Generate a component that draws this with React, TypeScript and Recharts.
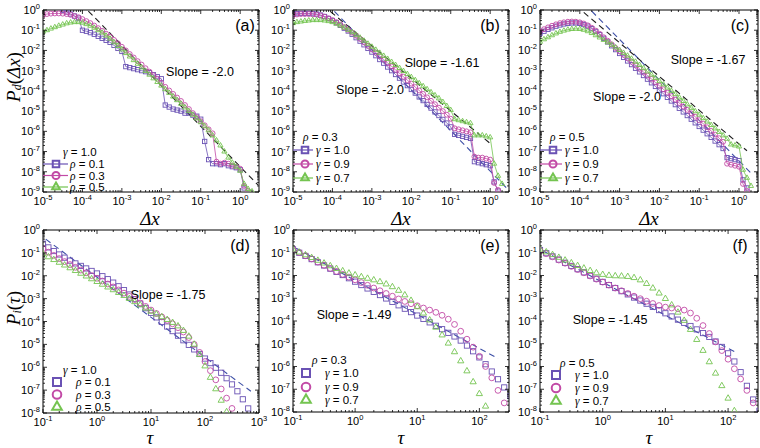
import { ScatterChart, Scatter, XAxis, YAxis, ReferenceLine, ReferenceArea } from 'recharts'

const PURPLE = '#6a52b4'
const MAGENTA = '#c24aa6'
const GREEN = '#74c450'
const FIT_BLUE = '#3d4fa6'
const FIT_BLACK = '#1c1c1c'
const SANS = '"Liberation Sans", Arial, sans-serif'
const SERIF = '"Liberation Serif", "Times New Roman", serif'

// axis decades (exponents of the labelled ticks)
const TOP_X_EXP = [-5, -4, -3, -2, -1, 0]
const TOP_Y_EXP = [-9, -8, -7, -6, -5, -4, -3, -2, -1, 0]
const D_X_EXP = [-1, 0, 1, 2, 3]
const EF_X_EXP = [-1, 0, 1, 2]
const BOT_Y_EXP = [-8, -7, -6, -5, -4, -3, -2, -1, 0]

// all values below are log10 of what the picture shows
const TOP_LOG_X = [
  -5.0, -4.9, -4.8, -4.7, -4.6, -4.5, -4.4, -4.3, -4.2, -4.1,
  -4.0, -3.9, -3.8, -3.7, -3.6, -3.5, -3.4, -3.3, -3.2, -3.1,
  -3.0, -2.9, -2.8, -2.7, -2.6, -2.5, -2.4, -2.3, -2.2, -2.1,
  -2.0, -1.9, -1.8, -1.7, -1.6, -1.5, -1.4, -1.3, -1.2, -1.1,
  -1.0, -0.9, -0.8, -0.7, -0.6, -0.5, -0.4, -0.3, -0.2, -0.1,
  0.0, 0.1, 0.2, 0.3,
]

// (a) gamma = 1.0, rho = 0.1 / 0.3 / 0.5
const A_RHO01 = [
  null, null, null, null, null, -0.02, -0.1, -0.2, -0.3, -0.4,
  -1.0, -1.05, -1.12, -1.2, -1.3, -1.4, -1.5, -1.6, -1.75, -1.9,
  -2.05, -2.8, -2.85, -2.9, -2.95, -3.0, -3.05, -3.1, -3.2, -3.3,
  -3.4, -4.7, -4.8, -4.9, -4.95, -5.0, -5.1, -5.1, -5.2, -5.25,
  -5.4, -6.5, -7.4, -7.6, -7.6, -7.65, -7.6, -7.7, -7.75, -7.8,
  -7.9, -8.8, null, null,
]
const A_RHO03 = [
  -0.25, -0.2, -0.18, -0.17, -0.17, -0.18, -0.2, -0.24, -0.3, -0.36,
  -0.45, -0.55, -0.65, -0.77, -0.9, -1.03, -1.17, -1.32, -1.48, -1.65,
  -1.82, -2.0, -2.18, -2.35, -2.53, -2.7, -2.88, -3.05, -3.23, -3.4,
  -3.6, -3.8, -3.98, -4.15, -4.33, -4.5, -4.7, -4.9, -5.1, -5.3,
  -5.5, -5.7, -5.9, -6.1, -7.5, -7.6, -7.55, -7.6, -7.7, -7.75,
  -7.85, -8.7, -8.95, null,
]
const A_RHO05 = [
  -1.07, -1.0, -0.92, -0.85, -0.78, -0.72, -0.66, -0.62, -0.6, -0.6,
  -0.63, -0.7, -0.78, -0.88, -1.0, -1.12, -1.27, -1.42, -1.6, -1.78,
  -1.95, -2.13, -2.3, -2.48, -2.66, -2.84, -3.02, -3.2, -3.38, -3.56,
  -3.74, -3.92, -4.1, -4.28, -4.46, -4.64, -4.82, -5.0, -5.18, -5.36,
  -5.55, -5.75, -5.95, -6.2, -6.45, -6.7, -7.0, -7.3, -7.55, -7.75,
  -7.95, -8.6, -8.85, -8.97,
]

// (b) rho = 0.3, gamma = 1.0 / 0.9 / 0.7
const B_GAM10 = [
  -0.2, -0.18, -0.17, -0.17, -0.17, -0.18, -0.2, -0.25, -0.32, -0.42,
  -0.52, -0.63, -0.76, -0.9, -1.04, -1.2, -1.37, -1.54, -1.72, -1.9,
  -2.08, -2.26, -2.45, -2.63, -2.82, -3.0, -3.19, -3.37, -3.56, -3.74,
  -3.93, -4.11, -4.3, -4.48, -4.67, -4.85, -5.04, -5.22, -5.41, -5.59,
  -5.78, -6.15, -6.2, -6.25, -6.3, -6.35, -7.5, -7.55, -7.6, -7.65,
  -7.7, -8.5, -8.95, null,
]
const B_GAM09 = [
  -0.25, -0.22, -0.2, -0.2, -0.2, -0.21, -0.23, -0.27, -0.33, -0.41,
  -0.5, -0.6, -0.72, -0.85, -0.98, -1.12, -1.27, -1.43, -1.6, -1.77,
  -1.94, -2.11, -2.28, -2.45, -2.62, -2.79, -2.96, -3.13, -3.3, -3.47,
  -3.64, -3.81, -3.98, -4.15, -4.32, -4.49, -4.66, -4.83, -5.0, -5.18,
  -5.38, -5.85, -5.9, -5.95, -6.0, -6.05, -7.25, -7.3, -7.3, -7.35,
  -7.4, -8.55, -8.9, null,
]
const B_GAM07 = [
  -0.65, -0.6, -0.57, -0.54, -0.52, -0.5, -0.5, -0.5, -0.52, -0.55,
  -0.6, -0.68, -0.77, -0.87, -0.98, -1.1, -1.23, -1.37, -1.52, -1.67,
  -1.82, -1.97, -2.12, -2.27, -2.42, -2.57, -2.72, -2.87, -3.02, -3.17,
  -3.32, -3.47, -3.62, -3.77, -3.92, -4.07, -4.22, -4.37, -4.55, -4.75,
  -4.95, -5.4, -5.45, -5.5, -5.55, -5.6, -6.2, -6.2, -6.2, -6.25,
  -6.3, -7.6, -8.2, -8.6,
]

// (c) rho = 0.5, gamma = 1.0 / 0.9 / 0.7
const C_GAM10 = [
  -1.15, -1.05, -0.96, -0.88, -0.8, -0.74, -0.69, -0.66, -0.64, -0.64,
  -0.66, -0.72, -0.8, -0.92, -1.06, -1.22, -1.4, -1.58, -1.77, -1.96,
  -2.15, -2.34, -2.52, -2.7, -2.88, -3.06, -3.24, -3.42, -3.6, -3.78,
  -3.96, -4.14, -4.32, -4.5, -4.68, -4.86, -5.04, -5.22, -5.4, -5.58,
  -5.76, -5.94, -6.12, -6.3, -6.48, -6.66, -6.85, -7.3, -7.35, -7.4,
  -7.45, -8.4, -8.8, null,
]
const C_GAM09 = [
  -1.05, -0.95, -0.86, -0.78, -0.71, -0.65, -0.61, -0.58, -0.57, -0.58,
  -0.61, -0.67, -0.76, -0.88, -1.02, -1.18, -1.35, -1.52, -1.7, -1.88,
  -2.05, -2.22, -2.39, -2.56, -2.73, -2.9, -3.07, -3.24, -3.41, -3.58,
  -3.75, -3.92, -4.09, -4.26, -4.43, -4.6, -4.77, -4.94, -5.11, -5.28,
  -5.45, -5.62, -5.8, -5.98, -6.16, -6.34, -6.52, -7.6, -7.65, -7.7,
  -7.75, -8.6, -8.95, null,
]
const C_GAM07 = [
  -1.57, -1.45, -1.35, -1.25, -1.16, -1.08, -1.02, -0.97, -0.94, -0.93,
  -0.94, -0.98, -1.05, -1.14, -1.25, -1.36, -1.48, -1.6, -1.72, -1.85,
  -1.98, -2.12, -2.26, -2.41, -2.56, -2.72, -2.88, -3.04, -3.2, -3.36,
  -3.52, -3.68, -3.84, -4.0, -4.16, -4.33, -4.5, -4.67, -4.84, -5.01,
  -5.18, -5.35, -5.52, -5.69, -5.86, -6.03, -6.2, -6.37, -6.65, -6.7,
  -6.75, -7.9, -8.3, -8.7,
]

const D_LOG_X = [
  -1.0, -0.9, -0.8, -0.7, -0.6, -0.5, -0.4, -0.3, -0.2, -0.1,
  0.0, 0.1, 0.2, 0.3, 0.4, 0.5, 0.6, 0.7, 0.8, 0.9,
  1.0, 1.1, 1.2, 1.3, 1.4, 1.5, 1.6, 1.7, 1.8, 1.9,
  2.0, 2.1, 2.2, 2.3, 2.4, 2.5, 2.6, 2.7, 2.8,
]
// (d) gamma = 1.0, rho = 0.1 / 0.3 / 0.5
const D_RHO01 = [
  -0.6, -0.76, -0.92, -1.07, -1.21, -1.34, -1.46, -1.57, -1.68, -1.79,
  -1.9, -2.02, -2.15, -2.3, -2.46, -2.63, -2.82, -3.02, -3.22, -3.42,
  -3.62, -3.82, -4.02, -4.22, -4.42, -4.62, -4.82, -5.02, -5.22, -5.42,
  -5.62, -5.82, -6.02, -6.24, -6.48, -6.75, -7.05, -7.4, -7.8,
]
const D_RHO03 = [
  -0.82, -0.97, -1.11, -1.25, -1.38, -1.51, -1.63, -1.75, -1.87, -1.99,
  -2.11, -2.23, -2.36, -2.49, -2.62, -2.76, -2.9, -3.04, -3.19, -3.34,
  -3.5, -3.65, -3.8, -3.95, -4.1, -4.27, -4.46, -4.7, -5.0, -5.35,
  -5.75, -6.15, -6.55, -6.95, -7.35, -7.8, null, null, null,
]
const D_RHO05 = [
  -1.05, -1.18, -1.3, -1.42, -1.54, -1.66, -1.78, -1.9, -2.02, -2.14,
  -2.26, -2.38, -2.5, -2.62, -2.74, -2.87, -3.0, -3.14, -3.28, -3.42,
  -3.56, -3.68, -3.8, -3.92, -4.05, -4.2, -4.4, -4.65, -5.0, -5.45,
  -5.95, -6.45, -6.95, -7.45, -7.95, null, null, null, null,
]

const EF_LOG_X = [
  -1.0, -0.9, -0.8, -0.7, -0.6, -0.5, -0.4, -0.3, -0.2, -0.1,
  0.0, 0.1, 0.2, 0.3, 0.4, 0.5, 0.6, 0.7, 0.8, 0.9,
  1.0, 1.1, 1.2, 1.3, 1.4, 1.5, 1.6, 1.7, 1.8, 1.9,
  2.0, 2.1, 2.2, 2.3, 2.4, 2.5,
]
// (e) rho = 0.3
const E_GAM10 = [
  -0.85, -1.0, -1.14, -1.28, -1.42, -1.56, -1.7, -1.84, -1.98, -2.12,
  -2.27, -2.42, -2.57, -2.72, -2.86, -3.01, -3.16, -3.31, -3.46, -3.61,
  -3.76, -3.91, -4.06, -4.21, -4.36, -4.52, -4.68, -4.86, -5.08, -5.33,
  -5.6, -5.9, -6.22, -6.56, -6.92, -7.3,
]
const E_GAM09 = [
  -0.85, -0.99, -1.13, -1.27, -1.41, -1.55, -1.69, -1.82, -1.95, -2.07,
  -2.19, -2.31, -2.43, -2.55, -2.67, -2.79, -2.91, -3.03, -3.14, -3.24,
  -3.33, -3.43, -3.52, -3.62, -3.75, -3.92, -4.15, -4.45, -4.8, -5.15,
  -5.55, -6.0, -6.5, -7.05, -7.6, null,
]
const E_GAM07 = [
  -0.85, -0.98, -1.1, -1.22, -1.34, -1.46, -1.58, -1.7, -1.8, -1.9,
  -1.98, -2.06, -2.13, -2.2, -2.28, -2.38, -2.5, -2.66, -2.86, -3.1,
  -3.38, -3.66, -3.96, -4.28, -4.62, -4.98, -5.36, -5.76, -6.2, -6.68,
  -7.2, -7.75, null, null, null, null,
]
// (f) rho = 0.5
const F_GAM10 = [
  -0.88, -1.02, -1.16, -1.3, -1.44, -1.58, -1.72, -1.86, -2.0, -2.14,
  -2.28, -2.42, -2.55, -2.69, -2.83, -2.97, -3.1, -3.24, -3.38, -3.52,
  -3.66, -3.8, -3.94, -4.08, -4.22, -4.37, -4.53, -4.7, -4.9, -5.14,
  -5.42, -5.78, -6.25, -6.85, -7.45, -7.95,
]
const F_GAM09 = [
  -0.9, -1.04, -1.18, -1.32, -1.46, -1.6, -1.74, -1.88, -2.02, -2.16,
  -2.29, -2.42, -2.55, -2.67, -2.79, -2.91, -3.02, -3.13, -3.23, -3.32,
  -3.39, -3.43, -3.46, -3.52, -3.65, -3.88, -4.2, -4.55, -4.92, -5.3,
  -5.68, -6.1, -6.55, -7.05, -7.6, null,
]
const F_GAM07 = [
  -0.85, -0.97, -1.09, -1.21, -1.33, -1.45, -1.57, -1.68, -1.79, -1.89,
  -1.96, -2.0, -2.02, -2.03, -2.05, -2.1, -2.2, -2.36, -2.56, -2.78,
  -3.02, -3.3, -3.62, -3.98, -4.38, -4.82, -5.3, -5.8, -6.3, -6.85,
  -7.4, -7.95, null, null, null, null,
]

// fitted power laws: [start, end] in log10
const FIT_A_X = [-3.85, 0.45]
const FIT_A_Y = [-0.05, -8.65]
const FIT_B2_X = [-3.95, 0.45]
const FIT_B2_Y = [-0.07, -8.87]
const FIT_B161_X = [-4.05, 0.0]
const FIT_B161_Y = [-0.08, -6.6]
const FIT_C2_X = [-3.7, 0.3]
const FIT_C2_Y = [-0.06, -8.06]
const FIT_C167_X = [-3.9, 0.2]
const FIT_C167_Y = [-0.12, -6.96]
const FIT_D_X = [-0.95, 2.85]
const FIT_D_Y = [-0.4, -7.05]
const FIT_E_X = [-0.95, 2.3]
const FIT_E_Y = [-0.8, -5.65]
const FIT_F_X = [-0.95, 2.15]
const FIT_F_Y = [-0.92, -5.42]

const RHO_LABELS = ['0.1', '0.3', '0.5']
const GAMMA_LABELS = ['1.0', '0.9', '0.7']

type Kind = 'square' | 'circle' | 'triangle'
const KINDS: Kind[] = ['square', 'circle', 'triangle']
const COLORS = [PURPLE, MAGENTA, GREEN]

const p10 = (v: number) => Math.pow(10, v)
const toPoints = (lx: number[], ly: (number | null)[]) =>
  lx.flatMap((v, i) => (ly[i] == null ? [] : [{ x: p10(v), y: p10(ly[i] as number) }]))

const axisTicks = (exps: number[], hi: number) => {
  const out: number[] = []
  exps.forEach((e) => {
    for (let k = 1; k < 10; k++) {
      const v = k * p10(e)
      if (v <= hi * 1.0001) out.push(v)
    }
  })
  return out
}
const expOf = (v: number) => {
  const l = Math.log10(v)
  const r = Math.round(l)
  return Math.abs(l - r) < 1e-6 ? r : null
}

function Marker({ kind, cx, cy, s, color, sw }: any) {
  if (cx == null || cy == null) return <g />
  if (kind === 'square')
    return <rect x={cx - s / 2} y={cy - s / 2} width={s} height={s} fill="none" stroke={color} strokeWidth={sw} />
  if (kind === 'circle') return <circle cx={cx} cy={cy} r={s / 2 + 0.3} fill="none" stroke={color} strokeWidth={sw} />
  const a = s * 1.2
  const h = a * 0.866
  return (
    <polygon
      points={`${cx},${cy - (2 * h) / 3} ${cx - a / 2},${cy + h / 3} ${cx + a / 2},${cy + h / 3}`}
      fill="none"
      stroke={color}
      strokeWidth={sw}
    />
  )
}

function TickLabel({ x, y, e, anchor }: any) {
  return (
    <text x={x} y={y} textAnchor={anchor} fontFamily={SANS} fontSize={11} fill="#000">
      10
      <tspan dy={-5} fontSize={7.5}>
        {e}
      </tspan>
    </text>
  )
}

function XTick({ x, y, payload, h }: any) {
  const e = expOf(payload.value)
  const len = e != null ? 4 : 2
  return (
    <g>
      <line x1={x} x2={x} y1={y} y2={y - len} stroke="#000" strokeWidth={0.8} />
      <line x1={x} x2={x} y1={y - h} y2={y - h + len} stroke="#000" strokeWidth={0.8} />
      {e != null && <TickLabel x={x} y={y + 13} e={e} anchor="middle" />}
    </g>
  )
}

function YTick({ x, y, payload, w }: any) {
  const e = expOf(payload.value)
  const len = e != null ? 4 : 2
  return (
    <g>
      <line x1={x} x2={x + len} y1={y} y2={y} stroke="#000" strokeWidth={0.8} />
      <line x1={x + w} x2={x + w - len} y1={y} y2={y} stroke="#000" strokeWidth={0.8} />
      {e != null && <TickLabel x={x - 3} y={y + 4} e={e} anchor="end" />}
    </g>
  )
}

interface Fit {
  lx: number[]
  ly: number[]
  color: string
}
interface PanelCfg {
  left: number
  top: number
  w: number
  h: number
  xd: [number, number]
  yd: [number, number]
  xExp: number[]
  yExp: number[]
  lx: number[]
  ys: (number | null)[][]
  fits: Fit[]
  joined: boolean
  ms: number
}

const PANELS: PanelCfg[] = [
  {
    left: 43, top: 10, w: 216, h: 182, xd: [1e-5, 3], yd: [1e-9, 1], xExp: TOP_X_EXP, yExp: TOP_Y_EXP,
    lx: TOP_LOG_X, ys: [A_RHO01, A_RHO03, A_RHO05],
    fits: [{ lx: FIT_A_X, ly: FIT_A_Y, color: FIT_BLACK }], joined: true, ms: 4.3,
  },
  {
    left: 293, top: 10, w: 216, h: 182, xd: [1e-5, 3], yd: [1e-9, 1], xExp: TOP_X_EXP, yExp: TOP_Y_EXP,
    lx: TOP_LOG_X, ys: [B_GAM10, B_GAM09, B_GAM07],
    fits: [
      { lx: FIT_B2_X, ly: FIT_B2_Y, color: FIT_BLUE },
      { lx: FIT_B161_X, ly: FIT_B161_Y, color: FIT_BLACK },
    ],
    joined: true, ms: 4.3,
  },
  {
    left: 540, top: 10, w: 218, h: 182, xd: [1e-5, 3], yd: [1e-9, 1], xExp: TOP_X_EXP, yExp: TOP_Y_EXP,
    lx: TOP_LOG_X, ys: [C_GAM10, C_GAM09, C_GAM07],
    fits: [
      { lx: FIT_C2_X, ly: FIT_C2_Y, color: FIT_BLUE },
      { lx: FIT_C167_X, ly: FIT_C167_Y, color: FIT_BLACK },
    ],
    joined: true, ms: 4.3,
  },
  {
    left: 43, top: 230, w: 216, h: 183, xd: [0.1, 1000], yd: [1e-8, 1], xExp: D_X_EXP, yExp: BOT_Y_EXP,
    lx: D_LOG_X, ys: [D_RHO01, D_RHO03, D_RHO05],
    fits: [{ lx: FIT_D_X, ly: FIT_D_Y, color: FIT_BLUE }], joined: false, ms: 5.2,
  },
  {
    left: 293, top: 230, w: 216, h: 182, xd: [0.1, 300], yd: [1e-8, 1], xExp: EF_X_EXP, yExp: BOT_Y_EXP,
    lx: EF_LOG_X, ys: [E_GAM10, E_GAM09, E_GAM07],
    fits: [{ lx: FIT_E_X, ly: FIT_E_Y, color: FIT_BLUE }], joined: false, ms: 5.2,
  },
  {
    left: 540, top: 230, w: 218, h: 182, xd: [0.1, 300], yd: [1e-8, 1], xExp: EF_X_EXP, yExp: BOT_Y_EXP,
    lx: EF_LOG_X, ys: [F_GAM10, F_GAM09, F_GAM07],
    fits: [{ lx: FIT_F_X, ly: FIT_F_Y, color: FIT_BLUE }], joined: false, ms: 5.2,
  },
]

function Panel({ cfg }: { cfg: PanelCfg }) {
  const L = 43
  const T = 10
  const R = 14
  const B = 40
  const xt = axisTicks(cfg.xExp, cfg.xd[1])
  const yt = axisTicks(cfg.yExp, cfg.yd[1])
  return (
    <div style={{ position: 'absolute', left: cfg.left - L, top: cfg.top - T }}>
      <ScatterChart width={L + cfg.w + R} height={T + cfg.h + B} margin={{ top: T, right: R, bottom: 0, left: 0 }}>
        <XAxis
          type="number"
          dataKey="x"
          scale="log"
          domain={cfg.xd}
          allowDataOverflow
          ticks={xt}
          interval={0}
          tickLine={false}
          axisLine={false}
          tickSize={0}
          tickMargin={0}
          height={B}
          tick={(p: any) => <XTick {...p} h={cfg.h} />}
        />
        <YAxis
          type="number"
          dataKey="y"
          scale="log"
          domain={cfg.yd}
          allowDataOverflow
          ticks={yt}
          interval={0}
          tickLine={false}
          axisLine={false}
          tickSize={0}
          tickMargin={0}
          width={L}
          tick={(p: any) => <YTick {...p} w={cfg.w} />}
        />
        <ReferenceArea x1={cfg.xd[0]} x2={cfg.xd[1]} y1={cfg.yd[0]} y2={cfg.yd[1]} fill="none" stroke="#000" strokeWidth={1} />
        {cfg.fits.map((f, i) => (
          <ReferenceLine
            key={'f' + i}
            segment={[
              { x: p10(f.lx[0]), y: p10(f.ly[0]) },
              { x: p10(f.lx[1]), y: p10(f.ly[1]) },
            ]}
            stroke={f.color}
            strokeWidth={1.1}
            strokeDasharray="6 4"
          />
        ))}
        {cfg.ys.map((ly, i) => (
          <Scatter
            key={i}
            data={toPoints(cfg.lx, ly)}
            fill={COLORS[i]}
            isAnimationActive={false}
            line={cfg.joined ? { stroke: COLORS[i], strokeWidth: 0.8 } : false}
            lineJointType="linear"
            shape={(p: any) => <Marker kind={KINDS[i]} cx={p.cx} cy={p.cy} s={cfg.ms} color={COLORS[i]} sw={0.9} />}
          />
        ))}
      </ScatterChart>
    </div>
  )
}

function Greek({ sym, value, x, y }: any) {
  return (
    <text x={x} y={y} dominantBaseline="central" fontFamily={SANS} fontSize={11.5} fill="#000">
      <tspan fontFamily={SERIF} fontStyle="italic">
        {sym}
      </tspan>
      {' = ' + value}
    </text>
  )
}

function LegendBlock({ headSym, headVal, hx, hy, rows, sym, labels, mx, tx, line, s }: any) {
  return (
    <g>
      <Greek sym={headSym} value={headVal} x={hx} y={hy} />
      {rows.map((ry: number, i: number) => (
        <g key={i}>
          {line && <line x1={line[0]} x2={line[1]} y1={ry} y2={ry} stroke={COLORS[i]} strokeWidth={1.2} />}
          <Marker kind={KINDS[i]} cx={mx} cy={ry} s={s} color={COLORS[i]} sw={2} />
          <Greek sym={sym} value={labels[i]} x={tx} y={ry} />
        </g>
      ))}
    </g>
  )
}

function SlopeText({ x, y, text }: any) {
  return (
    <text x={x} y={y} textAnchor="middle" dominantBaseline="central" fontFamily={SANS} fontSize={12.5} fill="#000">
      {text}
    </text>
  )
}

function PanelTag({ x, y, text }: any) {
  return (
    <text x={x} y={y} textAnchor="middle" dominantBaseline="central" fontFamily={SANS} fontSize={16} fill="#000">
      {text}
    </text>
  )
}

function AxisTitle({ x, y, text }: any) {
  return (
    <text x={x} y={y} textAnchor="middle" dominantBaseline="central" fontFamily={SERIF} fontStyle="italic" fontSize={19} fill="#000">
      {text}
    </text>
  )
}

export default function App() {
  return (
    <div style={{ position: 'absolute', left: 0, top: 0, width: 760, height: 448, background: '#fff', overflow: 'hidden' }}>
      {PANELS.map((p, i) => (
        <Panel key={i} cfg={p} />
      ))}
      <svg width={760} height={448} style={{ position: 'absolute', left: 0, top: 0, pointerEvents: 'none' }}>
        <PanelTag x={245} y={25} text="(a)" />
        <PanelTag x={490} y={25} text="(b)" />
        <PanelTag x={740} y={25} text="(c)" />
        <PanelTag x={240} y={245} text="(d)" />
        <PanelTag x={490} y={245} text="(e)" />
        <PanelTag x={740} y={245} text="(f)" />

        <SlopeText x={200} y={72} text="Slope = -2.0" />
        <SlopeText x={442} y={63} text="Slope = -1.61" />
        <SlopeText x={370} y={90} text="Slope = -2.0" />
        <SlopeText x={708} y={60} text="Slope = -1.67" />
        <SlopeText x={627} y={97} text="Slope = -2.0" />
        <SlopeText x={168} y={295} text="Slope = -1.75" />
        <SlopeText x={354} y={315} text="Slope = -1.49" />
        <SlopeText x={610} y={320} text="Slope = -1.45" />

        <AxisTitle x={150} y={218} text="Δx" />
        <AxisTitle x={401} y={218} text="Δx" />
        <AxisTitle x={649} y={218} text="Δx" />
        <AxisTitle x={150} y={437} text="τ" />
        <AxisTitle x={401} y={437} text="τ" />
        <AxisTitle x={649} y={437} text="τ" />

        <text transform="translate(13,77) rotate(-90)" textAnchor="middle" dominantBaseline="central" fontFamily={SERIF} fontSize={19} fill="#000">
          <tspan fontStyle="italic">P</tspan>
          <tspan fontStyle="italic" fontSize={12} dy={4}>d</tspan>
          <tspan dy={-4}>(</tspan>
          <tspan fontStyle="italic">Δx</tspan>
          <tspan>)</tspan>
        </text>
        <text transform="translate(13,308) rotate(-90)" textAnchor="middle" dominantBaseline="central" fontFamily={SERIF} fontSize={19} fill="#000">
          <tspan fontStyle="italic">P</tspan>
          <tspan fontStyle="italic" fontSize={12} dy={4}>i</tspan>
          <tspan dy={-4}>(</tspan>
          <tspan fontStyle="italic">τ</tspan>
          <tspan>)</tspan>
        </text>

        <LegendBlock headSym="γ" headVal="1.0" hx={63} hy={152} rows={[164, 175.5, 187]} sym="ρ" labels={RHO_LABELS} mx={56} tx={70} line={[43, 68]} s={6.5} />
        <LegendBlock headSym="ρ" headVal="0.3" hx={303} hy={137} rows={[150, 164, 178]} sym="γ" labels={GAMMA_LABELS} mx={305} tx={316} line={[293, 313]} s={6.5} />
        <LegendBlock headSym="ρ" headVal="0.5" hx={550} hy={137} rows={[150, 164, 178]} sym="γ" labels={GAMMA_LABELS} mx={553} tx={565} line={[540, 562]} s={6.5} />
        <LegendBlock headSym="γ" headVal="1.0" hx={63} hy={370} rows={[382, 394.5, 407]} sym="ρ" labels={RHO_LABELS} mx={57} tx={76} line={null} s={8} />
        <LegendBlock headSym="ρ" headVal="0.3" hx={312} hy={360} rows={[373, 387, 400]} sym="γ" labels={GAMMA_LABELS} mx={306} tx={325} line={null} s={8} />
        <LegendBlock headSym="ρ" headVal="0.5" hx={560} hy={363} rows={[375, 388, 401]} sym="γ" labels={GAMMA_LABELS} mx={556} tx={575} line={null} s={8} />
      </svg>
    </div>
  )
}
